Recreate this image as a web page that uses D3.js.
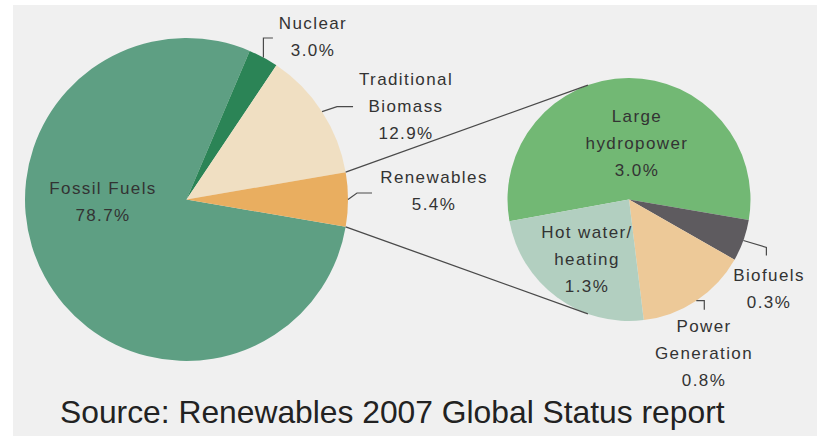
<!DOCTYPE html>
<html>
<head>
<meta charset="utf-8">
<script src="https://cdn.jsdelivr.net/npm/d3@7"></script>
<style>
  html, body { margin: 0; padding: 0; background: #ffffff; }
  svg { display: block; }
  text { font-family: "Liberation Sans", Arial, sans-serif; fill: #333333; }
</style>
</head>
<body>
<svg id="chart" width="817" height="436"></svg>
<script>
// ---- data ----
const mainCategories = ["Fossil Fuels", "Nuclear", "Traditional Biomass", "Renewables"];
const mainValues = [78.7, 3.0, 12.9, 5.4];
const mainLabelLines = [["Fossil Fuels"], ["Nuclear"], ["Traditional", "Biomass"], ["Renewables"]];
const mainColors = ["#5e9f83", "#2b8456", "#f0dfc2", "#e9ae60"];

const subCategories = ["Large hydropower", "Biofuels", "Power Generation", "Hot water/heating"];
const subValues = [3.0, 0.3, 0.8, 1.3];
const subLabelLines = [["Large", "hydropower"], ["Biofuels"], ["Power", "Generation"], ["Hot water/", "heating"]];
const subColors = ["#72b874", "#5e5b5f", "#edc998", "#b2cfc0"];

const sourceText = "Source: Renewables 2007 Global Status report";

// ---- layout ----
const svg = d3.select("#chart");
svg.append("rect").attr("x", 13).attr("y", 5).attr("width", 817 - 13).attr("height", 436 - 5).attr("fill", "#f0f0f0");

const main = { cx: 186.5, cy: 199.5, r: 161.5 };
const sub = { cx: 629, cy: 199.5, r: 121.5 };

const deg = Math.PI / 180;
const mainTotal = d3.sum(mainValues);
const renewFrac = mainValues[3] / mainTotal;
// Renewables slice centred on the right-hand horizontal
const mainStart = Math.PI / 2 + renewFrac * Math.PI - 2 * Math.PI;
const mainPie = d3.pie().sort(null).startAngle(mainStart).endAngle(mainStart + 2 * Math.PI);
const mainArcs = mainPie(mainValues);

const subTotal = d3.sum(subValues);
const subStart = 99.7 * deg - (subValues[0] / subTotal) * 2 * Math.PI;
const subPie = d3.pie().sort(null).startAngle(subStart).endAngle(subStart + 2 * Math.PI);
const subArcs = subPie(subValues);

const arcMain = d3.arc().innerRadius(0).outerRadius(main.r);
const arcSub = d3.arc().innerRadius(0).outerRadius(sub.r);

const gMain = svg.append("g").attr("transform", `translate(${main.cx},${main.cy})`);
gMain.selectAll("path").data(mainArcs).join("path")
  .attr("d", arcMain).attr("fill", (d, i) => mainColors[i]);

const gSub = svg.append("g").attr("transform", `translate(${sub.cx},${sub.cy})`);
gSub.selectAll("path").data(subArcs).join("path")
  .attr("d", arcSub).attr("fill", (d, i) => subColors[i]);

// polar helper (d3 angle: 0 at top, clockwise)
const polar = (c, r, a) => [c.cx + r * Math.sin(a), c.cy - r * Math.cos(a)];

// ---- connector lines: tangents from renewables corners to sub pie ----
const ren = mainArcs[3];
function tangent(p, upper) {
  const vx = p[0] - sub.cx, vy = p[1] - sub.cy;
  const d = Math.hypot(vx, vy);
  const base = Math.atan2(vy, vx);
  const off = Math.acos(sub.r / d);
  const a = upper ? base + off : base - off;
  return [sub.cx + sub.r * Math.cos(a), sub.cy + sub.r * Math.sin(a)];
}
const pTop = polar(main, main.r, ren.startAngle);
const pBot = polar(main, main.r, ren.endAngle);
const tTop = tangent(pTop, true);
const tBot = tangent(pBot, false);
svg.append("line").attr("x1", pTop[0]).attr("y1", pTop[1]).attr("x2", tTop[0]).attr("y2", tTop[1])
  .attr("stroke", "#4a4a4a").attr("stroke-width", 1.3);
svg.append("line").attr("x1", pBot[0]).attr("y1", pBot[1]).attr("x2", tBot[0]).attr("y2", tBot[1])
  .attr("stroke", "#4a4a4a").attr("stroke-width", 1.3);

// ---- leader lines (relative elbows from arc mid-point) ----
const mid = d => (d.startAngle + d.endAngle) / 2;
const leaders = [
  { c: main, d: mainArcs[1], steps: [[0, -19.5], [9.5, 0]] },
  { c: main, d: mainArcs[2], steps: [[15, -5], [16, 0]] },
  { c: main, d: mainArcs[3], steps: [[9, -6.5], [15, 0]] },
  { c: sub, d: subArcs[1], steps: [[23, 7], [0, 8]] },
  { c: sub, d: subArcs[2], steps: [[8, 0], [0, 9]] }
];
leaders.forEach(l => {
  let p = polar(l.c, l.c.r, mid(l.d));
  const pts = [p];
  l.steps.forEach(s => { p = [p[0] + s[0], p[1] + s[1]]; pts.push(p); });
  svg.append("path").attr("d", d3.line()(pts)).attr("fill", "none")
    .attr("stroke", "#4a4a4a").attr("stroke-width", 1.2);
});

// ---- labels ----
const fmt = v => v.toFixed(1) + "%";
const lineH = 27;
const mainLabelPos = [[103, 194], [313, 29], [406, 85], [434, 183]];
const subLabelPos = [[637, 122], [769, 281], [704, 332], [587, 238]];

function drawLabel(pos, lines, value) {
  const all = lines.concat([fmt(value)]);
  const t = svg.append("text").attr("text-anchor", "middle")
    .attr("font-size", 17).attr("letter-spacing", 1.4);
  all.forEach((s, i) => {
    t.append("tspan").attr("x", pos[0]).attr("y", pos[1] + i * lineH).text(s);
  });
}
mainValues.forEach((v, i) => drawLabel(mainLabelPos[i], mainLabelLines[i], v));
subValues.forEach((v, i) => drawLabel(subLabelPos[i], subLabelLines[i], v));

// ---- source ----
svg.append("text").attr("x", 60).attr("y", 423).attr("font-size", 31.8)
  .attr("fill", "#222").style("fill", "#222").text(sourceText);
</script>
</body>
</html>
